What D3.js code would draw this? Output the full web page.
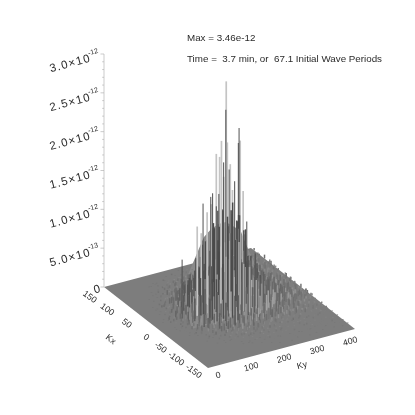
<!DOCTYPE html>
<html>
<head>
<meta charset="utf-8">
<script src="https://d3js.org/d3.v7.min.js"></script>
<style>
body { margin: 0; background: #fff; }
svg { display: block; filter: blur(0.4px); }
text { font-family: "Liberation Sans", sans-serif; fill: #2a2a2a; }
</style>
</head>
<body>
<div id="chart"></div>
<script>
// all heights are in units of 1e-14
const kxTicks = [150, 100, 50, 0, -50, -100, -150];
const kyTicks = [0, 100, 200, 300, 400];
const zTicks = [0, 50, 100, 150, 200, 250, 300];
const zMantissa = ["0", "5.0", "1.0", "1.5", "2.0", "2.5", "3.0"];
const zExponent = ["", "-13", "-12", "-12", "-12", "-12", "-12"];
const zMinor = [10, 20, 30, 40, 60, 70, 80, 90, 110, 120, 130, 140, 160, 170, 180, 190, 210, 220, 230, 240, 260, 270, 280, 290];

const gridKy = [20,30,40,50,60,70,80,90,100,110,120,130,140,150,160,170,180,190,200,210,220,230,240,250,260,270,280,290,300,310,320,330,340,350,360,370,380,390,400];
const gridKx = [135,120,105,90,75,60,45,30,15,0,-15,-30,-45,-60,-75,-90,-105,-120,-135];
const gridZ = [
  [0,0,0,0,0,0,0,0,0,0,0,0,0,1,0,1,0,1,2,1,1,0,2,1,1,3,1,2,1,2,1,3,1,2,1,2,1,2,3],
  [0,0,0,0,0,0,0,0,1,0,1,0,2,1,1,3,1,2,4,2,3,1,5,2,3,6,2,4,3,5,2,4,3,2,4,1,3,2,3],
  [0,0,0,0,0,0,1,0,1,2,1,3,2,4,1,5,3,6,2,7,4,3,8,5,5,8,6,10,4,7,9,3,6,5,7,3,4,2,5],
  [0,0,0,0,0,1,0,2,1,3,2,5,3,7,4,9,3,6,11,5,8,4,10,6,8,14,6,12,9,5,11,7,4,9,6,8,3,6,4],
  [0,0,0,0,1,0,2,3,2,6,4,8,5,12,7,15,6,10,18,9,14,6,16,8,16,9,18,7,13,6,12,5,10,4,8,6,3,5,3],
  [0,0,0,1,0,2,4,3,8,5,12,9,20,11,26,14,31,18,24,12,28,10,19,13,14,24,10,18,9,15,7,11,5,9,4,7,5,3,4],
  [0,0,1,0,3,2,6,10,7,18,12,30,16,42,25,55,28,38,60,24,47,30,22,36,26,34,16,22,12,19,8,14,6,10,5,8,4,6,3],
  [0,0,1,2,1,5,9,6,20,14,38,22,60,35,74,40,92,52,68,34,80,45,28,50,30,42,20,28,13,21,10,15,7,11,5,8,4,6,3],
  [0,1,0,3,2,8,5,16,11,34,20,58,30,88,46,104,60,120,72,96,50,110,38,62,38,46,24,32,15,22,11,16,8,12,6,9,4,5,3],
  [0,0,2,1,4,3,12,7,26,15,48,28,76,40,112,58,128,84,138,66,118,48,90,32,58,28,38,18,26,13,18,9,13,7,10,5,7,3,4],
  [0,1,0,2,3,6,4,14,9,30,18,52,26,84,44,116,70,130,92,122,56,100,36,58,34,44,21,27,14,20,9,14,7,10,5,7,3,5,3],
  [0,0,1,1,2,4,7,5,16,10,32,16,54,28,70,38,88,50,72,42,76,34,46,22,44,20,28,13,19,10,14,7,10,5,7,3,5,3,3],
  [0,0,0,1,0,2,3,6,4,12,7,20,11,30,16,38,20,32,24,36,16,26,12,18,14,18,10,15,7,11,5,8,4,6,4,3,4,2,2],
  [0,0,0,0,1,0,2,1,4,3,7,4,10,6,14,7,12,9,15,6,11,5,8,4,10,5,8,4,6,4,7,3,5,3,4,2,3,2,2],
  [0,0,0,0,0,1,0,1,2,1,3,2,4,3,5,2,6,3,4,5,2,4,3,2,4,2,3,1,3,2,3,1,2,2,1,2,1,1,2],
  [0,0,0,0,0,0,0,0,1,0,1,1,2,1,2,1,2,3,1,2,1,3,1,2,2,1,2,1,2,1,1,2,1,1,2,1,1,1,1],
  [0,0,0,0,0,0,0,0,0,0,0,1,0,1,1,0,1,1,2,1,1,2,1,1,1,2,1,1,1,2,1,1,1,1,1,2,1,1,1],
  [0,0,0,0,0,0,0,0,0,0,0,0,0,0,1,0,1,0,1,1,0,1,1,0,1,1,0,1,1,1,0,1,1,1,1,0,1,1,1],
  [0,0,0,0,0,0,0,0,0,0,0,0,0,0,0,0,0,0,0,1,0,0,1,0,1,0,0,1,0,1,0,1,1,0,1,0,1,0,1]
];

// second set of samples, half a step off the first
const fieldKy = [25,35,45,55,65,75,85,95,105,115,125,135,145,155,165,175,185,195,205,215,225,235,245,255,265,275,285,295,305,315,325,335,345,355,365,375,385,395];
const fieldKx = [127,112,97,82,67,52,37,22,7,-8,-23,-38,-53,-68,-83,-98,-113];
const fieldZ = [
  [0,0,0,0,0,0,0,0,1,0,0,1,1,0,2,1,1,2,3,1,2,3,1,4,2,2,3,1,2,4,1,3,2,1,3,2,1,2],
  [0,0,0,0,0,0,0,1,0,1,1,2,1,3,1,2,4,2,5,3,1,4,6,2,5,3,2,5,4,2,3,5,2,3,1,4,2,2],
  [0,0,0,0,0,0,1,1,0,2,3,1,4,3,6,2,5,8,4,3,7,5,9,3,6,4,7,2,5,3,6,2,4,3,2,3,1,3],
  [0,0,0,0,0,1,0,2,3,1,5,4,7,3,9,6,11,5,13,8,6,12,4,10,12,6,14,8,10,5,9,7,3,6,4,3,4,2],
  [0,0,0,0,1,1,3,2,5,7,4,10,6,15,9,18,11,22,8,16,20,7,14,9,18,9,16,7,12,8,5,10,4,7,5,4,3,3],
  [0,0,0,1,0,3,2,7,5,11,15,8,24,14,33,19,41,26,17,36,22,30,12,20,16,22,11,17,8,12,9,5,8,4,6,3,4,2],
  [0,0,1,0,2,4,3,12,8,24,16,34,27,50,31,66,44,58,39,72,33,48,26,19,40,19,25,14,17,9,13,7,10,5,7,4,5,3],
  [0,1,0,2,3,6,10,8,22,17,40,29,64,47,82,58,100,71,88,62,94,42,68,30,36,38,22,28,12,18,10,14,6,9,5,7,3,3],
  [0,0,1,3,2,7,6,14,19,30,24,56,41,78,67,108,79,124,96,112,84,104,59,46,50,30,40,20,23,12,17,9,12,6,8,5,5,3],
  [0,1,0,2,4,5,9,11,18,26,36,44,62,52,92,74,122,88,116,102,74,96,52,68,44,36,26,30,15,20,9,15,7,10,4,7,3,4],
  [0,0,1,1,3,4,6,10,12,21,26,38,30,60,46,80,58,94,66,84,58,62,38,34,40,22,31,15,21,10,13,7,10,5,7,3,4,3],
  [0,0,0,1,1,2,4,3,8,9,15,14,25,21,36,28,46,33,42,29,38,24,22,15,22,15,18,10,13,7,10,5,7,4,5,3,3,2],
  [0,0,0,0,1,1,2,2,4,5,6,9,8,13,10,17,12,14,11,16,9,12,7,8,9,11,5,8,5,6,3,6,3,4,2,3,3,2],
  [0,0,0,0,0,1,0,1,2,2,4,3,5,4,6,5,7,4,6,5,4,5,3,4,3,2,3,2,2,3,1,2,2,1,2,1,1,1],
  [0,0,0,0,0,0,1,0,1,1,2,1,2,3,2,3,2,4,2,3,2,2,3,1,2,2,1,2,1,2,1,1,2,1,1,1,1,1],
  [0,0,0,0,0,0,0,0,0,1,0,1,1,1,2,1,1,2,1,2,1,1,2,1,1,1,1,1,2,1,1,1,1,1,1,1,1,1],
  [0,0,0,0,0,0,0,0,0,0,0,0,1,0,1,0,1,1,1,0,1,1,1,1,0,1,1,0,1,1,1,0,1,1,1,1,0,1]
];

// the samples do not sit on a clean lattice, these are their offsets
const kyOffsets = [3,-4,1,5,-2,-5,4,0,-3,2,5,-1,-4,3,-2,1,4,-5,2];
const kxOffsets = [5,-7,2,-3,6,-1,-6,4,-4,7,1,-5,3,-2,6,-7,0];

// outline of the dense central mound along Kx = 0
const moundKy = [70,90,110,130,150,170,190,210,230,250,270,290];
const moundZ = [30,60,80,100,108,112,112,104,96,70,48,32];

// tallest spikes, all close to the Kx = 0 ridge
const litPeakKy = [193, 180, 196, 166, 175, 204, 231, 239, 152, 114, 141, 186, 210, 125];
const litPeakZ = [292, 217, 213, 202, 197, 184, 211, 145, 139, 115, 130, 170, 150, 105];
const darkPeakKy = [191, 227, 225, 185, 129, 155, 150, 215, 248, 165, 200, 172, 72];
const darkPeakZ = [256, 228, 209, 189, 143, 153, 149, 161, 105, 135, 178, 150, 78];

const width = 415, height = 415;

// the plot is an oblique projection: each data axis moves the point on screen
const xFromKx = d3.scaleLinear().domain([150, -150]).range([0, 104]);
const yFromKx = d3.scaleLinear().domain([150, -150]).range([0, 81]);
const xFromKy = d3.scaleLinear().domain([0, 400]).range([104, 251]);
const yFromKy = d3.scaleLinear().domain([0, 400]).range([287, 248]);
const yFromZ = d3.scaleLinear().domain([0, 300]).range([0, -233]);
const px = (kx, ky) => xFromKx(kx) + xFromKy(ky);
const py = (kx, ky, z) => yFromKx(kx) + yFromKy(ky) + yFromZ(z);

const tone = d3.scaleSymlog().constant(2).domain([-40, 0, 40]).range(["#ababab", "#7e7e7e", "#4a4a4a"]).clamp(true);

const svg = d3.select("#chart").append("svg").attr("width", width).attr("height", height);

// floor of the surface
const floorCorners = [[150, 0], [-150, 0], [-150, 400], [150, 400]];
svg.append("path")
  .attr("d", d3.line()(floorCorners.map(c => [px(c[0], c[1]), py(c[0], c[1], 0)])) + "Z")
  .attr("fill", "#7d7d7d");

let spikes = [];
function addSamples(rowsKx, colsKy, table) {
  rowsKx.forEach((kx, r) => {
    colsKy.forEach((ky, c) => {
      const z = table[r][c];
      if (z > 0) {
        const prev = c > 0 ? table[r][c - 1] : 0;
        const sx = Math.max(-150, kx + kxOffsets[c % kxOffsets.length]);
        const sy = Math.min(400, ky + kyOffsets[r % kyOffsets.length]);
        spikes.push({ kx: sx, ky: sy, z: z, color: tone(z - prev), w: 1.5 });
      }
    });
  });
}
addSamples(gridKx, gridKy, gridZ);
addSamples(fieldKx, fieldKy, fieldZ);
litPeakKy.forEach((ky, i) => spikes.push({ kx: 2, ky: ky, z: litPeakZ[i], color: "#c4c4c4", w: 1.7 }));
darkPeakKy.forEach((ky, i) => spikes.push({ kx: 1, ky: ky, z: darkPeakZ[i], color: "#505050", w: 1 }));
// back to front
spikes.sort((a, b) => d3.descending(a.kx, b.kx));

// gray body behind the streaks
const moundPts = moundKy.map((ky, i) => [px(0, ky), py(0, ky, moundZ[i])])
  .concat(moundKy.slice().reverse().map(ky => [px(-30, ky), py(-30, ky, 0)]));
svg.append("path").attr("d", d3.line()(moundPts) + "Z").attr("fill", "#8a8a8a");

svg.append("g").selectAll("line").data(spikes).enter().append("line")
  .attr("x1", d => px(d.kx, d.ky))
  .attr("x2", d => px(d.kx, d.ky))
  .attr("y1", d => py(d.kx, d.ky, 0))
  .attr("y2", d => py(d.kx, d.ky, d.z))
  .attr("stroke", d => d.color)
  .attr("stroke-width", d => d.w);

// z axis
const axisX = px(150, 0);
const axisY = z => py(150, 0, z);
const zAxis = svg.append("g").attr("stroke", "#b4b4b4").attr("stroke-width", 0.7);
zAxis.append("line").attr("x1", axisX).attr("x2", axisX).attr("y1", axisY(0)).attr("y2", axisY(300));
zAxis.selectAll(".major").data(zTicks).enter().append("line").attr("class", "major")
  .attr("x1", axisX).attr("x2", axisX - 3.5).attr("y1", d => axisY(d)).attr("y2", d => axisY(d));
zAxis.selectAll(".minor").data(zMinor).enter().append("line").attr("class", "minor")
  .attr("x1", axisX).attr("x2", axisX - 1.8).attr("y1", d => axisY(d)).attr("y2", d => axisY(d));

const zLabels = svg.append("g").selectAll("g").data(zTicks).enter().append("g")
  .attr("transform", d => "translate(" + (axisX - 4) + "," + (axisY(d) + 1) + ") rotate(-15)");
zLabels.append("text")
  .attr("text-anchor", "end")
  .attr("x", (d, i) => i == 0 ? 0 : -11)
  .attr("y", 4)
  .attr("font-size", 11.5)
  .attr("textLength", (d, i) => i == 0 ? null : 41)
  .text((d, i) => i == 0 ? zMantissa[i] : zMantissa[i] + "\u00d710");
zLabels.append("text")
  .attr("x", -11)
  .attr("y", -2.5)
  .attr("font-size", 7)
  .text((d, i) => zExponent[i]);

// Kx labels sit on their own line below the left edge
const kxLabelX = d3.scaleLinear().domain([150, -150]).range([96, 201]);
const kxLabelY = d3.scaleLinear().domain([150, -150]).range([301, 376]);
svg.append("g").selectAll("text").data(kxTicks).enter().append("text")
  .attr("transform", d => "translate(" + kxLabelX(d) + "," + kxLabelY(d) + ") rotate(36)")
  .attr("text-anchor", "end")
  .attr("font-size", 8.8)
  .attr("dy", "0.35em")
  .text(d => d);

const kyLabelX = d3.scaleLinear().domain([0, 400]).range([218, 350]);
const kyLabelY = d3.scaleLinear().domain([0, 400]).range([375, 341]);
svg.append("g").selectAll("text").data(kyTicks).enter().append("text")
  .attr("transform", d => "translate(" + kyLabelX(d) + "," + kyLabelY(d) + ") rotate(-15)")
  .attr("text-anchor", "middle")
  .attr("font-size", 8.8)
  .attr("dy", "0.35em")
  .text(d => d);

svg.append("text").attr("transform", "translate(111,339) rotate(38)")
  .attr("text-anchor", "middle").attr("dy", "0.35em").attr("font-size", 8.8).text("Kx");
svg.append("text").attr("transform", "translate(302,365) rotate(-15)")
  .attr("text-anchor", "middle").attr("dy", "0.35em").attr("font-size", 8.8).text("Ky");

// header text
svg.append("text").attr("x", 187).attr("y", 41).attr("font-size", 9.8).text("Max = 3.46e-12");
svg.append("text").attr("x", 187).attr("y", 62).attr("font-size", 9.8)
  .style("white-space", "pre")
  .text("Time =  3.7 min, or  67.1 Initial Wave Periods");
</script>
</body>
</html>
